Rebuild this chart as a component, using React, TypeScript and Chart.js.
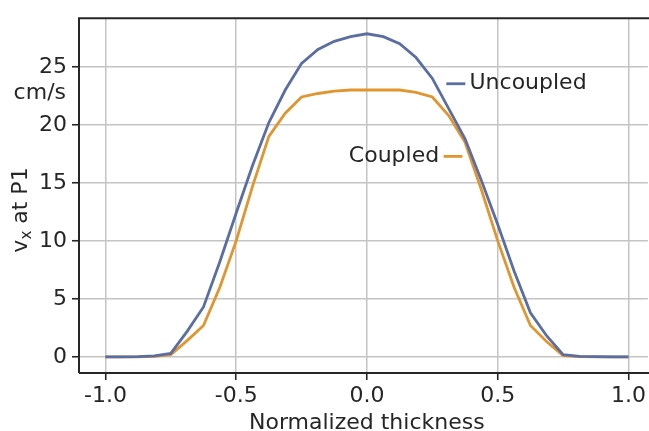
import React, { useEffect, useRef } from "react";
import { Chart, registerables } from "chart.js";

Chart.register(...registerables);

const xValues = [
  -1, -0.9375, -0.875, -0.8125, -0.75, -0.6875, -0.625, -0.5625, -0.5, -0.4375, -0.375, -0.3125, -0.25, -0.1875, -0.125, -0.0625,
  0, 0.0625, 0.125, 0.1875, 0.25, 0.3125, 0.375, 0.4375, 0.5, 0.5625, 0.625, 0.6875, 0.75, 0.8125, 0.875, 0.9375, 1,
];
const uncoupled = [
  0, 0, 0.02, 0.08, 0.3, 2.2, 4.3, 8.2, 12.4, 16.5, 20.2, 23.0, 25.3, 26.5, 27.2, 27.6,
  27.85, 27.6, 27.0, 25.8, 24.0, 21.4, 18.8, 15.2, 11.4, 7.4, 3.8, 1.8, 0.2, 0.05, 0.02, 0, 0,
];
const coupled = [
  0, 0, 0, 0.05, 0.2, 1.4, 2.7, 6.0, 10.0, 14.7, 19.0, 21.0, 22.4, 22.7, 22.9, 23.0,
  23.0, 23.0, 23.0, 22.8, 22.4, 20.8, 18.5, 14.4, 10.0, 6.0, 2.7, 1.3, 0.1, 0.02, 0, 0, 0,
];
const xTicks = [-1, -0.5, 0, 0.5, 1];
const yTicks = [0, 5, 10, 15, 20, 25];
const seriesNames = ["Uncoupled", "Coupled"];
const yUnit = "cm/s";
const xTitle = "Normalized thickness";

const BLUE = "#5b6ea3";
const ORANGE = "#e0952f";
const FONT = '"DejaVu Sans", sans-serif';
const TEXT = "#262626";
const FS = 22;

const overlayPlugin = {
  id: "overlay",
  afterDatasetsDraw(chart: any) {
    const { ctx, chartArea, scales } = chart;
    const xs = scales.x;
    const ys = scales.y;
    ctx.save();
    // spines
    ctx.strokeStyle = "#262626";
    ctx.lineWidth = 2;
    ctx.beginPath();
    ctx.moveTo(chartArea.left, chartArea.bottom);
    ctx.lineTo(chartArea.left, chartArea.top);
    ctx.lineTo(chartArea.right + 5, chartArea.top);
    ctx.moveTo(chartArea.left, chartArea.bottom);
    ctx.lineTo(chartArea.right + 5, chartArea.bottom);
    ctx.stroke();

    ctx.font = `${FS}px ${FONT}`;
    ctx.fillStyle = TEXT;

    // Uncoupled inline label
    const uy = ys.getPixelForValue(23.54);
    ctx.strokeStyle = BLUE;
    ctx.lineWidth = 2.8;
    ctx.beginPath();
    ctx.moveTo(xs.getPixelForValue(0.3035), uy);
    ctx.lineTo(xs.getPixelForValue(0.376), uy);
    ctx.stroke();
    ctx.textAlign = "left";
    ctx.textBaseline = "middle";
    ctx.fillText(seriesNames[0], xs.getPixelForValue(0.392), uy);

    // Coupled inline label
    const cy = ys.getPixelForValue(17.28);
    ctx.strokeStyle = ORANGE;
    ctx.beginPath();
    ctx.moveTo(xs.getPixelForValue(0.293), cy);
    ctx.lineTo(xs.getPixelForValue(0.365), cy);
    ctx.stroke();
    ctx.textAlign = "right";
    ctx.fillText(seriesNames[1], xs.getPixelForValue(0.276), cy);

    // unit label
    ctx.textAlign = "right";
    ctx.fillText(yUnit, chartArea.left - 13, ys.getPixelForValue(22.7));

    // x title
    ctx.textAlign = "center";
    ctx.textBaseline = "alphabetic";
    ctx.fillText(xTitle, (chartArea.left + xs.getPixelForValue(1.1)) / 2, 428.5);

    // y title (rotated) v_x at P1
    ctx.translate(27, 210);
    ctx.rotate(-Math.PI / 2);
    const mainFont = `${FS}px ${FONT}`;
    const subFont = `15px ${FONT}`;
    ctx.font = mainFont;
    const wv = ctx.measureText("v").width;
    const rest = " at P1";
    const wr = ctx.measureText(rest).width;
    ctx.font = subFont;
    const wx = ctx.measureText("x").width;
    const total = wv + wx + wr;
    let px = -total / 2;
    ctx.textAlign = "left";
    ctx.textBaseline = "alphabetic";
    ctx.font = mainFont;
    ctx.fillText("v", px, 0);
    px += wv;
    ctx.font = subFont;
    ctx.fillText("x", px, 4);
    px += wx;
    ctx.font = mainFont;
    ctx.fillText(rest, px, 0);
    ctx.restore();
  },
};

export default function App() {
  const ref = useRef<HTMLCanvasElement | null>(null);
  useEffect(() => {
    if (!ref.current) return;
    const chart = new Chart(ref.current, {
      type: "line",
      data: {
        datasets: [
          {
            label: seriesNames[0],
            data: xValues.map((x, i) => ({ x, y: uncoupled[i] })),
            borderColor: BLUE,
            borderWidth: 2.8,
            pointRadius: 0,
            tension: 0,
          },
          {
            label: seriesNames[1],
            data: xValues.map((x, i) => ({ x, y: coupled[i] })),
            borderColor: ORANGE,
            borderWidth: 2.8,
            pointRadius: 0,
            tension: 0,
          },
        ],
      },
      options: {
        responsive: false,
        animation: false,
        devicePixelRatio: 1,
        layout: { padding: { top: 16, left: 0, right: 0, bottom: 0 } },
        plugins: { legend: { display: false }, tooltip: { enabled: false } },
        scales: {
          x: {
            type: "linear",
            min: -1.101,
            max: 1.074,
            afterBuildTicks: (s: any) => {
              s.ticks = xTicks.map((v) => ({ value: v }));
            },
            afterFit: (s: any) => {
              s.height = 58;
            },
            ticks: {
              callback: (v: any) => Number(v).toFixed(1),
              font: { family: FONT, size: FS },
              color: TEXT,
              padding: 3,
              maxRotation: 0,
              autoSkip: false,
            },
            grid: {
              color: "#c4c4c4",
              lineWidth: 1.5,
              tickLength: 7,
              tickColor: "#262626",
              tickWidth: 1.6,
            },
            border: { display: false },
          },
          y: {
            type: "linear",
            min: -1.39,
            max: 29.19,
            afterBuildTicks: (s: any) => {
              s.ticks = yTicks.map((v) => ({ value: v }));
            },
            afterFit: (s: any) => {
              s.width = 79;
            },
            ticks: {
              callback: (v: any) => String(v),
              font: { family: FONT, size: FS },
              color: TEXT,
              padding: 5,
              autoSkip: false,
            },
            grid: {
              color: "#c4c4c4",
              lineWidth: 1.5,
              tickLength: 7,
              tickColor: "#262626",
              tickWidth: 1.6,
            },
            border: { display: false },
          },
        },
      },
      plugins: [overlayPlugin],
    });
    return () => chart.destroy();
  }, []);
  return (
    <div style={{ position: "fixed", left: 0, top: 0, width: 649, height: 431, background: "#fff" }}>
      <canvas ref={ref} width={649} height={431} />
    </div>
  );
}
